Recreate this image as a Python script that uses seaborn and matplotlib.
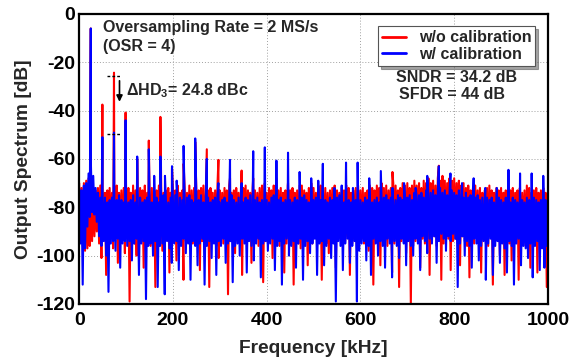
import numpy as np
import pandas as pd
import matplotlib
matplotlib.use("Agg")
import matplotlib.pyplot as plt
import seaborn as sns

# ---------------- data ----------------
series_names = ["w/o calibration", "w/ calibration"]
series_colors = ["#ff0000", "#0000ff"]

# noise-floor bins: 5 kHz slots, 0..995 kHz (upper excursion at slot, lower excursion half a slot later)
slot_step_khz = 5.0

blue_hi = [
    -72, -73, -71, -70, -66, -62, -67, -72, -74, -76, -77, -76, -78, -77, -76, -78, -77, -75, -77, -78,
    -76, -78, -77, -75, -78, -77, -76, -78, -77, -76, -75, -78, -77, -76, -78, -77, -75, -77, -78, -76,
    -77, -75, -78, -76, -77, -78, -76, -75, -77, -78, -76, -77, -75, -78, -77, -76, -78, -77, -76, -75,
    -78, -77, -76, -78, -77, -75, -77, -78, -76, -77, -78, -76, -77, -75, -78, -77, -76, -78, -77, -76,
    -77, -78, -76, -75, -78, -77, -76, -78, -77, -75, -77, -78, -76, -77, -78, -76, -75, -77, -78, -76,
    -77, -76, -78, -77, -75, -77, -78, -76, -77, -78, -76, -75, -77, -78, -76, -77, -78, -76, -77, -75,
    -77, -78, -76, -77, -75, -78, -77, -76, -78, -77, -76, -75, -77, -76, -78, -77, -75, -76, -77, -75,
    -76, -75, -77, -74, -76, -75, -74, -76, -73, -75, -74, -73, -75, -74, -72, -74, -73, -75, -74, -73,
    -74, -75, -73, -75, -76, -74, -76, -75, -77, -76, -75, -77, -76, -78, -76, -77, -76, -78, -77, -76,
    -77, -78, -76, -77, -78, -76, -77, -78, -76, -77, -78, -76, -77, -78, -76, -77, -78, -77, -76, -77,
]
blue_lo = [
    -95, -112, -97, -88, -84, -82, -83, -86, -92, -96, -94, -100, -115, -95, -94, -98, -93, -105, -95, -94,
    -96, -94, -102, -95, -93, -108, -95, -94, -118, -96, -95, -100, -94, -113, -96, -95, -116, -94, -97, -103,
    -95, -94, -106, -96, -93, -99, -95, -110, -94, -96, -104, -95, -93, -112, -96, -94, -101, -95, -108, -94,
    -96, -93, -103, -95, -94, -111, -96, -95, -100, -93, -95, -107, -94, -96, -102, -95, -93, -109, -95, -94,
    -98, -95, -93, -106, -96, -94, -112, -95, -93, -100, -96, -94, -105, -95, -93, -110, -96, -94, -99, -95,
    -93, -108, -95, -94, -104, -96, -93, -101, -95, -119, -94, -96, -106, -95, -93, -103, -96, -94, -119, -98,
    -95, -94, -102, -96, -108, -93, -95, -100, -94, -96, -105, -93, -95, -109, -94, -96, -101, -93, -95, -104,
    -94, -96, -100, -93, -95, -106, -92, -94, -99, -93, -95, -92, -103, -94, -91, -93, -98, -92, -94, -91,
    -93, -113, -95, -92, -100, -94, -96, -105, -93, -95, -102, -96, -94, -110, -95, -93, -108, -96, -94, -103,
    -95, -97, -107, -94, -96, -112, -95, -93, -104, -96, -97, -101, -95, -109, -96, -94, -106, -97, -105, -96,
]
red_hi = [
    -70, -72, -70, -69, -68, -70, -72, -73, -72, -71, -72, -74, -73, -72, -74, -73, -71, -74, -73, -72,
    -73, -72, -74, -71, -73, -74, -72, -73, -71, -74, -73, -72, -74, -73, -71, -72, -74, -73, -72, -74,
    -72, -73, -71, -74, -73, -72, -74, -71, -73, -72, -74, -73, -72, -71, -74, -73, -72, -74, -73, -71,
    -73, -74, -72, -73, -71, -74, -73, -72, -74, -73, -72, -71, -73, -74, -72, -73, -74, -72, -71, -73,
    -74, -72, -73, -71, -74, -73, -72, -74, -73, -71, -73, -72, -74, -73, -72, -71, -73, -74, -72, -73,
    -72, -74, -73, -71, -73, -72, -74, -73, -72, -71, -73, -74, -72, -73, -71, -72, -74, -73, -72, -71,
    -73, -72, -74, -73, -71, -72, -73, -71, -72, -70, -72, -71, -73, -72, -70, -71, -73, -72, -70, -71,
    -70, -72, -71, -69, -71, -70, -72, -69, -70, -68, -70, -69, -71, -68, -69, -67, -69, -70, -68, -69,
    -68, -70, -69, -71, -70, -72, -71, -73, -72, -71, -73, -72, -74, -73, -72, -71, -73, -74, -72, -73,
    -72, -74, -73, -71, -73, -72, -74, -73, -72, -74, -73, -71, -72, -74, -73, -72, -74, -73, -72, -74,
]
red_lo = [
    -94, -96, -98, -97, -96, -94, -92, -90, -95, -101, -93, -108, -94, -93, -97, -92, -103, -94, -93, -99,
    -92, -119, -93, -95, -100, -92, -94, -105, -93, -92, -96, -94, -113, -93, -92, -98, -95, -93, -107, -94,
    -93, -102, -95, -92, -110, -94, -93, -97, -95, -92, -93, -106, -94, -95, -92, -113, -93, -94, -96, -101,
    -93, -95, -92, -116, -94, -93, -99, -92, -95, -108, -93, -94, -92, -103, -95, -93, -96, -92, -111, -94,
    -95, -93, -101, -92, -94, -96, -93, -107, -95, -92, -94, -112, -93, -95, -97, -92, -94, -104, -93, -95,
    -92, -96, -94, -110, -93, -95, -99, -92, -94, -105, -93, -92, -96, -94, -92, -108, -95, -93, -97, -94,
    -93, -95, -92, -98, -94, -112, -93, -95, -104, -92, -94, -96, -93, -107, -95, -92, -113, -94, -93, -99,
    -93, -120, -96, -94, -92, -105, -93, -95, -92, -108, -94, -92, -96, -93, -110, -95, -92, -93, -106, -94,
    -93, -95, -104, -92, -94, -96, -109, -93, -95, -92, -94, -107, -93, -95, -96, -92, -112, -94, -93, -100,
    -94, -108, -93, -95, -102, -94, -93, -110, -95, -92, -96, -94, -105, -93, -95, -107, -94, -96, -103, -113,
]

# tones / harmonic spurs (kHz, dB)
red_spur_f = [24.75, 49.5, 74.25, 99, 123.75, 148.5, 173.25, 198, 222.75, 247.5, 272.25, 297,
              321.75, 346.5, 371.25, 396, 420.75, 445.5, 470.25, 495, 668.25, 767.25]
red_spur_db = [-6, -37.5, -24.3, -40.8, -60, -52.4, -42.6, -64, -62, -53, -56, -60.4,
               -68, -64.8, -68, -70, -68, -70, -71, -70, -65.4, -62.8]
blue_spur_f = [24.75, 49.5, 74.25, 99, 123.75, 148.5, 160, 173.25, 183, 198, 208, 222.75, 247.5,
               272.25, 297, 321.75, 346.5, 371.25, 396, 420.75, 445.5, 470.25, 495, 510, 519.75,
               544.5, 560, 569.25, 584, 594, 618.75, 643.5, 668.25, 693, 717.75, 742.5, 767.25,
               792, 816.75, 841.5, 866.25, 891, 915.75, 940.5, 965.25, 990]
blue_spur_db = [-6, -51, -49.1, -44, -59, -56, -67, -59, -67, -63, -69, -54.6, -51.5,
                -60, -70, -60.4, -70, -56.8, -55.2, -60.7, -57.4, -65.4, -68, -69, -62,
                -72, -71, -61.5, -72, -61.5, -68, -65, -72, -70, -72, -67, -63,
                -66, -70, -68, -72, -72, -64.5, -66, -66, -67]

x_ticks = [0, 200, 400, 600, 800, 1000]
y_ticks = [0, -20, -40, -60, -80, -100, -120]


# ---------------- build long-form table ----------------
def build(name, hi, lo, sf, sdb):
    n = len(hi)
    f_hi = np.arange(n) * slot_step_khz
    f_lo = f_hi + slot_step_khz / 2
    f = np.concatenate([f_hi, f_lo, np.asarray(sf, float)])
    v = np.concatenate([np.asarray(hi, float), np.asarray(lo, float), np.asarray(sdb, float)])
    order = np.argsort(f, kind="stable")
    return pd.DataFrame({"freq": f[order], "level": v[order], "series": name})


df = pd.concat([
    build(series_names[0], red_hi, red_lo, red_spur_f, red_spur_db),
    build(series_names[1], blue_hi, blue_lo, blue_spur_f, blue_spur_db),
], ignore_index=True)

# ---------------- plot ----------------
sns.set_theme(style="white")
plt.rcParams["font.family"] = ["Liberation Sans", "DejaVu Sans"]
plt.rcParams["font.weight"] = "bold"
plt.rcParams["mathtext.fontset"] = "custom"
plt.rcParams["mathtext.rm"] = "Liberation Sans:bold"
plt.rcParams["mathtext.bf"] = "Liberation Sans:bold"

fig = plt.figure(figsize=(5.78, 3.58), dpi=100)
ax = fig.add_axes([0.137, 0.151, 0.811, 0.810])

sns.lineplot(data=df, x="freq", y="level", hue="series", hue_order=series_names,
             palette=series_colors, estimator=None, errorbar=None, sort=False,
             linewidth=1.5, ax=ax)

ax.set_xlim(0, 1000)
ax.set_ylim(-120, 0)
ax.set_xticks(x_ticks)
ax.set_yticks(y_ticks)
ax.set_xticklabels([str(t) for t in x_ticks], fontsize=14, fontweight="bold")
ax.set_yticklabels([str(t) for t in y_ticks], fontsize=14, fontweight="bold")
ax.tick_params(axis="y", direction="in", length=3, width=0.8, pad=3, colors="black")
ax.tick_params(axis="x", direction="in", length=3, width=0.8, pad=6, colors="black")
ax.grid(True, color="#a0a0a0", linestyle=(0, (1, 2)), linewidth=0.7)
ax.set_axisbelow(True)
for s in ax.spines.values():
    s.set_color("black")
    s.set_linewidth(1.6)

ax.set_xlabel("Frequency [kHz]", fontsize=13.8, fontweight="bold", labelpad=8)
ax.set_ylabel("Output Spectrum [dB]", fontsize=13.8, fontweight="bold", labelpad=3)

leg = ax.legend(loc="upper right", bbox_to_anchor=(0.99, 0.985), fontsize=11.5,
                frameon=True, fancybox=False, shadow=True, handlelength=1.5,
                borderpad=0.25, labelspacing=0.1, handletextpad=0.8)
leg.get_frame().set_edgecolor("#555555")
leg.get_frame().set_linewidth(0.8)
for line in leg.get_lines():
    line.set_linewidth(2.0)
for t in leg.get_texts():
    t.set_fontweight("bold")

ax.text(51, -5.8, "Oversampling Rate = 2 MS/s", fontsize=11.5, fontweight="bold", va="center", ha="left")
ax.text(51, -13.6, "(OSR = 4)", fontsize=11.5, fontweight="bold", va="center", ha="left")
ax.text(100, -31.7, r"$\Delta$HD$_3$= 24.8 dBc", fontsize=11.5, fontweight="bold", va="center", ha="left")
ax.text(805, -26.5, "SNDR = 34.2 dB", fontsize=11.5, fontweight="bold", va="center", ha="center")
ax.text(795, -33.5, "SFDR = 44 dB", fontsize=11.5, fontweight="bold", va="center", ha="center")

ax.plot([60, 87], [-25.7, -25.7], color="black", linestyle=(0, (2, 1.5)), linewidth=1)
ax.plot([60, 87], [-49.7, -49.7], color="black", linestyle=(0, (2, 1.5)), linewidth=1)
ax.annotate("", xy=(86, -37.5), xytext=(86, -26.5),
            arrowprops=dict(arrowstyle="-|>", color="black", lw=1.2, mutation_scale=9))

fig.savefig("out.png", dpi=100)
